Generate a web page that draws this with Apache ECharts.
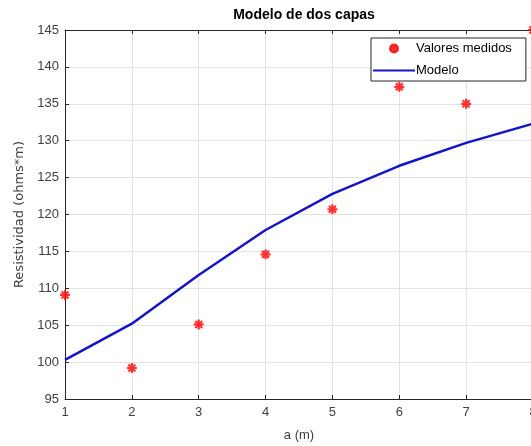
<!DOCTYPE html>
<html>
<head>
<meta charset="utf-8">
<script src="https://cdn.jsdelivr.net/npm/echarts@6/dist/echarts.min.js"></script>
<style>
  html, body { margin: 0; padding: 0; background: #fff; }
  #chart { width: 531px; height: 446px; }
</style>
</head>
<body>
<div id="chart"></div>
<script>
// Electrode spacing a (m)
const spacing = [1, 2, 3, 4, 5, 6, 7, 8];
// Measured apparent resistivity (ohms*m)
const measured = [109.1, 99.2, 105.1, 114.6, 120.7, 137.3, 135.0, 145.0];
// Two-layer model response (ohms*m)
const model = [100.3, 105.2, 111.8, 117.9, 122.8, 126.6, 129.7, 132.3];
// Axis ticks
const xTicks = { min: 1, max: 8, step: 1 };
const yTicks = { min: 95, max: 145, step: 5 };

const FONT = 'Liberation Sans, Arial, sans-serif';
const AXIS_COLOR = '#262626';
const LABEL_COLOR = '#404040';
const GRID_COLOR = '#e3e3e3';

// Asterisk marker: plus + cross drawn as strokes
const ASTERISK = 'path://M10,0L10,20M0,10L20,10M3,3L17,17M3,17L17,3';

const chart = echarts.init(document.getElementById('chart'), null, { renderer: 'canvas' });

chart.setOption({
  animation: false,
  backgroundColor: '#ffffff',
  title: {
    text: 'Modelo de dos capas',
    left: 299,
    textAlign: 'center',
    top: 3,
    textStyle: { fontFamily: FONT, fontSize: 14, fontWeight: 'bold', color: '#000' }
  },
  // plot box runs past the right edge of the canvas
  grid: { left: 65, width: 468, top: 30, height: 369, outerBoundsMode: 'none', containLabel: false },
  legend: {
    orient: 'vertical',
    left: 371,
    top: 38,
    padding: [4, 14, 4, 1],
    itemGap: 9,
    itemWidth: 42,
    itemHeight: 8,
    backgroundColor: '#ffffff',
    borderColor: AXIS_COLOR,
    borderWidth: 1,
    borderRadius: 0,
    textStyle: { fontFamily: FONT, fontSize: 13, color: '#000', padding: [0, 0, 0, -4] },
    data: [
      { name: 'Valores medidos', icon: 'circle' },
      { name: 'Modelo', itemStyle: { opacity: 0 } }
    ]
  },
  xAxis: [
    {
      type: 'value',
      min: xTicks.min,
      max: xTicks.max,
      interval: xTicks.step,
      name: 'a (m)',
      nameLocation: 'middle',
      nameGap: 30,
      nameTextStyle: { fontFamily: FONT, fontSize: 13, color: LABEL_COLOR },
      axisLine: { lineStyle: { color: AXIS_COLOR, width: 1 } },
      axisTick: { inside: true, length: 4, lineStyle: { color: AXIS_COLOR } },
      axisLabel: { fontFamily: FONT, fontSize: 13, color: LABEL_COLOR, margin: 7 },
      splitLine: { show: true, lineStyle: { color: GRID_COLOR, width: 1 } }
    },
    {
      type: 'value',
      position: 'top',
      min: xTicks.min,
      max: xTicks.max,
      interval: xTicks.step,
      axisLine: { onZero: false, lineStyle: { color: AXIS_COLOR, width: 1 } },
      axisTick: { inside: true, length: 4, lineStyle: { color: AXIS_COLOR } },
      axisLabel: { show: false },
      splitLine: { show: false }
    }
  ],
  yAxis: {
    type: 'value',
    min: yTicks.min,
    max: yTicks.max,
    interval: yTicks.step,
    name: 'Resistividad (ohms*m)',
    nameLocation: 'middle',
    nameGap: 38,
    nameRotate: 90,
    nameTextStyle: { fontFamily: 'DejaVu Sans, sans-serif', fontSize: 13, color: LABEL_COLOR },
    axisLine: { show: true, lineStyle: { color: AXIS_COLOR, width: 1 } },
    axisTick: { show: true, inside: true, length: 4, lineStyle: { color: AXIS_COLOR } },
    axisLabel: { fontFamily: FONT, fontSize: 13, color: LABEL_COLOR, margin: 6 },
    splitLine: { show: true, lineStyle: { color: GRID_COLOR, width: 1 } }
  },
  series: [
    {
      name: 'Valores medidos',
      type: 'scatter',
      xAxisIndex: 0,
      symbol: ASTERISK,
      symbolSize: 10,
      itemStyle: { color: '#ff0000', borderColor: '#ff0000', borderWidth: 2.2 },
      data: spacing.map((a, i) => [a, measured[i]]),
      z: 3
    },
    {
      name: 'Modelo',
      type: 'line',
      xAxisIndex: 0,
      symbol: 'none',
      smooth: false,
      lineStyle: { color: '#1414c8', width: 2.5 },
      itemStyle: { color: '#1414c8' },
      data: spacing.map((a, i) => [a, model[i]]),
      z: 2
    }
  ]
});
</script>
</body>
</html>
